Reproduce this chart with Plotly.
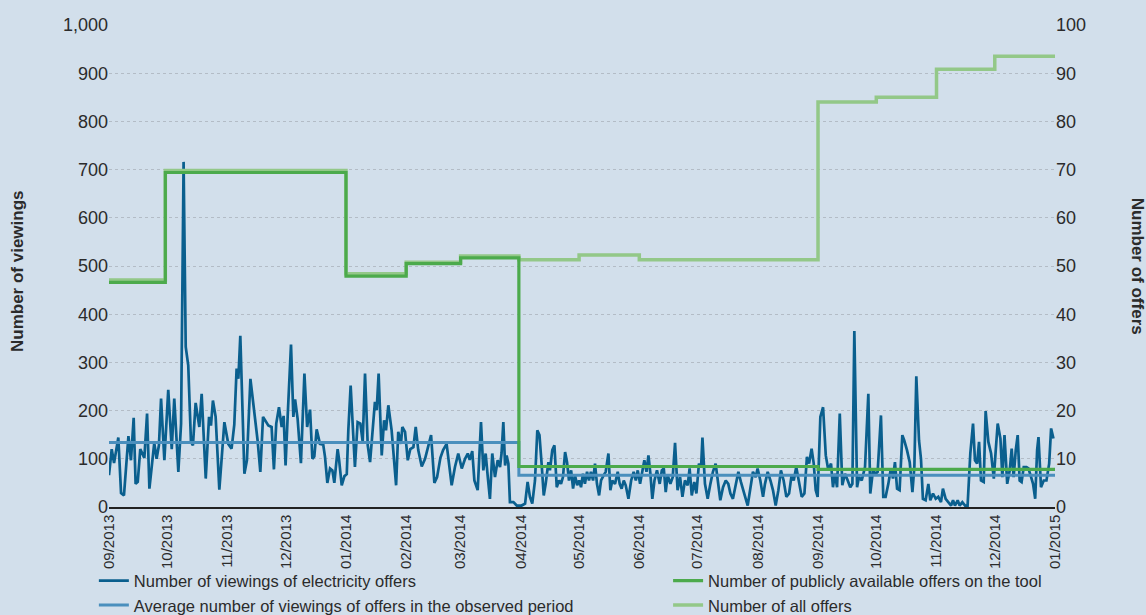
import plotly.graph_objects as go
import pandas as pd

START = pd.Timestamp("2013-09-01")

# Daily viewings (day offset from 1 Sep 2013, number of viewings)
view_days = [
    0.0, 1.4, 2.6, 4.8, 6.2, 7.7, 10.0, 11.3, 12.7, 13.7, 14.8, 16.1, 18.2, 19.6, 20.8, 23.3, 24.5, 25.7,
    26.8, 28.5, 30.5, 32.3, 33.6, 35.7, 37.1, 38.4, 39.5, 40.8, 42.2, 43.2, 44.6, 46.5, 47.7, 49.8, 51.5,
    52.5, 53.5, 54.9, 56.8, 59.4, 61.4, 63.1, 64.5, 65.7, 66.6, 67.6, 69.7, 71.0, 72.8, 75.2, 76.5, 77.9,
    79.3, 82.0, 83.7, 84.9, 86.1, 87.5, 88.9, 89.9, 90.9, 92.0, 93.7, 94.9, 95.8, 97.1,
    98.8, 100.6, 102.0, 103.5, 104.7, 105.7, 106.9, 108.6, 110.3, 111.2, 112.4, 113.8, 115.0, 116.0, 117.7,
    118.4, 119.8, 121.2, 122.4, 123.2, 124.4, 126.6, 128.0, 129.4, 130.6, 131.8, 133.2, 134.4, 136.9, 137.8,
    138.8, 140.4, 141.6, 142.6, 143.8, 145.5, 147.8, 148.9, 150.3, 151.0, 152.4, 153.8, 155.1, 156.7, 157.9,
    159.2, 161.0, 162.7, 164.4, 165.8, 167.5, 168.9, 170.6, 172.0, 173.8, 175.2, 176.4, 178.1, 179.8, 181.6,
    183.3, 184.7, 185.7, 187.0, 188.1, 189.8, 191.5, 192.7, 193.9,
    195.0, 196.1, 197.3, 198.7, 200.1, 201.3, 202.1, 203.0, 203.9, 204.7, 205.6, 206.4, 208.2, 209.9, 212.4,
    214.2, 215.5, 216.7, 217.9, 219.3, 220.5, 221.6, 222.7, 223.8, 224.8, 226.2, 227.0, 228.2, 229.3, 230.5,
    231.7, 232.7, 233.7, 234.8, 235.8, 236.8, 237.9, 238.9, 239.9, 241.0, 242.0, 243.0, 244.0, 245.0, 246.1,
    247.1, 248.1, 249.2, 250.2, 251.2, 252.3, 253.3, 254.7, 255.7, 257.1, 258.1, 259.1, 260.5, 261.9, 262.9,
    263.9, 265.0, 266.0, 267.4, 268.8, 270.1, 271.2, 272.2, 273.4, 274.6, 275.6, 276.7, 277.7, 278.7, 279.7,
    280.8, 282.1, 283.5, 284.6, 285.6, 286.6, 287.6, 289.0, 290.2, 291.4,
    292.7, 294.0, 295.2, 296.5, 297.9, 298.9, 300.0, 301.3, 302.4, 303.7, 304.8, 305.5, 306.8, 308.2, 309.6,
    310.9, 312.3, 313.7, 314.7, 316.1, 317.5, 318.8, 319.9, 321.2, 322.6, 324.0, 325.3, 326.7, 327.8, 328.8,
    330.2, 331.5, 332.9, 333.9, 335.3, 336.7, 337.7, 339.1, 340.5, 341.8, 343.2, 344.6, 345.9, 347.3, 348.7,
    350.1, 351.4, 352.5, 353.8, 355.2, 356.6, 358.0, 359.3, 360.4, 361.7, 362.8, 363.8, 364.8, 366.2, 367.6,
    369.0, 370.3, 371.7, 372.7, 373.7, 374.8, 376.2, 377.5, 378.9, 380.3, 381.6, 382.7, 383.7, 385.1, 386.1,
    387.5, 389.2,
    390.9, 391.9, 393.3, 394.7, 395.7, 396.7, 397.4, 398.6, 399.8, 401.2, 402.5, 403.6, 404.6, 405.7, 407.0,
    408.4, 409.4, 410.8, 412.2, 413.6, 414.6, 415.6, 417.0, 418.0, 419.0, 420.4, 421.8, 422.8, 424.2, 425.6,
    426.9, 428.3, 429.3, 430.7, 432.1, 433.5, 434.5, 435.5, 436.9, 437.9, 439.3, 440.7, 442.0, 443.4, 444.8,
    445.8, 446.9, 447.9, 448.9, 450.3, 451.3, 452.7, 454.1, 455.5, 456.5, 457.5, 458.9, 459.9, 461.0, 462.4,
    463.7, 464.7, 465.7, 466.8, 467.8, 468.8, 469.8, 470.9, 472.3, 473.3, 474.7, 475.7, 476.8, 477.8, 478.5,
    479.8, 481.2, 482.6, 484.0, 485.0, 486.2,
]
view_counts = [
    66, 120, 91, 144, 29, 24, 147, 97, 185, 48, 52, 120, 102, 194, 38, 133, 100, 128,
    225, 97, 243, 120, 225, 73, 173, 716, 332, 294, 135, 128, 216, 166, 235, 59, 187,
    169, 221, 187, 36, 176, 131, 121, 171, 287, 266, 355, 69, 97, 266, 180, 138, 73,
    187, 169, 166, 78, 173, 207, 166, 189, 86, 190, 337, 187, 223, 183,
    91, 277, 166, 202, 100, 105, 161, 131, 129, 104, 50, 80, 76, 50, 120,
    100, 45, 64, 68, 159, 252, 83, 176, 173, 135, 277, 128, 93, 218, 201,
    277, 107, 180, 159, 211, 159, 45, 156, 131, 166, 156, 97, 120, 124, 166,
    118, 84, 100, 124, 149, 50, 62, 102, 118, 131, 83, 45, 83, 111, 80,
    100, 111, 98, 116, 55, 35, 176, 76, 111,
    62, 17, 111, 62, 97, 83, 112, 176, 86, 107, 90, 10, 10, 3, 3,
    7, 52, 21, 7, 55, 159, 149, 90, 24, 48, 93, 76, 118, 128, 41,
    55, 48, 62, 114, 93, 55, 76, 38, 66, 45, 55, 41, 69, 48, 73,
    55, 73, 55, 90, 48, 24, 55, 66, 73, 111, 35, 55, 48, 73, 48,
    38, 55, 45, 17, 55, 73, 55, 76, 48, 76, 97, 73, 107, 69, 17,
    55, 76, 48, 76, 80, 31, 66, 48, 62, 133,
    35, 62, 21, 55, 45, 80, 24, 52, 28, 90, 83, 144, 48, 17, 48,
    73, 90, 48, 14, 41, 55, 48, 28, 17, 48, 73, 52, 35, 17, 3,
    35, 73, 62, 80, 55, 21, 48, 73, 55, 35, 3, 35, 76, 55, 21,
    28, 66, 55, 83, 48, 21, 28, 104, 90, 121, 90, 35, 21, 187, 207,
    107, 76, 90, 41, 69, 41, 194, 45, 69, 55, 41, 48, 365, 41, 62,
    55, 83,
    235, 28, 76, 69, 73, 138, 190, 21, 21, 48, 80, 59, 93, 38, 35,
    149, 138, 118, 93, 31, 83, 271, 138, 100, 17, 14, 48, 14, 28, 17,
    21, 10, 38, 17, 10, 3, 14, 3, 14, 3, 10, 3, 3, 111, 173,
    97, 90, 135, 55, 52, 199, 135, 111, 59, 118, 173, 142, 62, 149, 48,
    76, 121, 62, 118, 149, 55, 52, 83, 83, 80, 62, 48, 17, 118, 145,
    41, 55, 55, 90, 163, 142,
]

# Average viewings in the observed period (step changes)
avg_dates = ["2013-09-01", "2014-03-31", "2015-01-01"]
avg_values = [134, 66, 66]

# Number of publicly available offers on the tool (right axis)
public_dates = ["2013-09-01", "2013-09-30", "2014-01-01", "2014-02-01", "2014-03-01",
                "2014-03-31", "2014-09-01", "2015-01-01"]
public_offers = [46.6, 69.4, 47.9, 50.5, 51.7, 8.4, 7.8, 7.8]

# Number of all offers (right axis)
all_dates = ["2013-09-01", "2013-09-30", "2014-01-01", "2014-02-01", "2014-03-01", "2014-03-31",
             "2014-05-01", "2014-06-01", "2014-09-01", "2014-10-01", "2014-11-01", "2014-12-01",
             "2015-01-01"]
all_offers = [47.1, 69.8, 48.4, 50.8, 52.1, 51.3, 52.3, 51.3, 84, 85, 90.8, 93.5, 93.5]

names = [
    "Number of viewings of electricity offers",
    "Average number of viewings of offers in the observed period",
    "Number of publicly available offers on the tool",
    "Number of all offers",
]

BG = "#d2dfeb"
FONT = "Liberation Sans, Arial, sans-serif"
TXT = "#2b2b2b"

view_x = START + pd.to_timedelta(view_days, unit="D")

fig = go.Figure()
fig.add_trace(go.Scatter(x=view_x, y=view_counts, mode="lines", name=names[0],
                         line=dict(color="#0a5f8e", width=2.7), legend="legend", legendrank=1))
fig.add_trace(go.Scatter(x=pd.to_datetime(avg_dates), y=avg_values, mode="lines", name=names[1],
                         line=dict(color="#4a8fbd", width=3, shape="hv"), legend="legend", legendrank=2))
fig.add_trace(go.Scatter(x=pd.to_datetime(all_dates), y=all_offers, mode="lines", name=names[3],
                         line=dict(color="#93c888", width=3.5, shape="hv"), yaxis="y2",
                         legend="legend2", legendrank=2))
fig.add_trace(go.Scatter(x=pd.to_datetime(public_dates), y=public_offers, mode="lines", name=names[2],
                         line=dict(color="#4caa4c", width=3.2, shape="hv"), yaxis="y2",
                         legend="legend2", legendrank=1))

leg_common = dict(orientation="v", yanchor="top", xanchor="left",
                  font=dict(size=16.5, color=TXT, family=FONT), bgcolor="rgba(0,0,0,0)",
                  tracegroupgap=0, itemwidth=30)

fig.update_layout(
    width=1146, height=615,
    paper_bgcolor=BG, plot_bgcolor=BG,
    margin=dict(l=109, r=91, t=25, b=108, autoexpand=False),
    font=dict(family=FONT, color=TXT),
    showlegend=True,
    legend=dict(x=-0.016, y=-0.117, **leg_common),
    legend2=dict(x=0.591, y=-0.117, **leg_common),
    xaxis=dict(type="date", range=[START, pd.Timestamp("2015-01-01")], dtick="M1",
               tick0="2013-09-01", tickformat="%m/%Y", tickangle=-90, showgrid=False,
               showline=True, linecolor="#222222", linewidth=1.5, ticks="", zeroline=False,
               tickfont=dict(size=15, color=TXT, family=FONT)),
    yaxis=dict(range=[0, 1000], dtick=100, tickformat=",", showgrid=True, gridcolor="#b3bcc6",
               griddash="dot", gridwidth=1, zeroline=False, ticks="",
               tickfont=dict(size=18, color=TXT, family=FONT)),
    yaxis2=dict(range=[0, 100], dtick=10, overlaying="y", side="right", showgrid=False,
                zeroline=False, ticks="", tickfont=dict(size=18, color=TXT, family=FONT)),
    annotations=[
        dict(text="<b>Number of viewings</b>", xref="paper", yref="paper", x=-0.096, y=0.49,
             xanchor="center", yanchor="middle", textangle=-90, showarrow=False,
             font=dict(size=17, color=TXT, family=FONT)),
        dict(text="<b>Number of offers</b>", xref="paper", yref="paper", x=1.088, y=0.5,
             xanchor="center", yanchor="middle", textangle=90, showarrow=False,
             font=dict(size=17, color=TXT, family=FONT)),
    ],
)

fig.write_html(
    "out.html",
    config={"displayModeBar": False},
    post_script="document.body.style.margin='0';document.body.style.padding='0';"
                "document.body.style.overflow='hidden';"
                "document.documentElement.style.background='" + BG + "';",
)
